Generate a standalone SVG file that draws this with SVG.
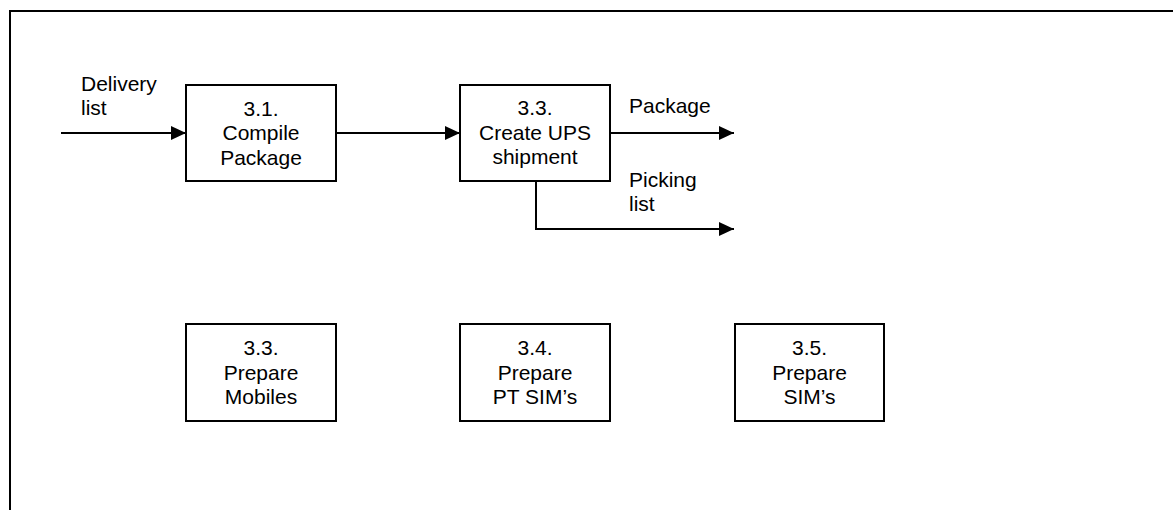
<svg xmlns="http://www.w3.org/2000/svg" width="1173" height="510" viewBox="0 0 1173 510">
<defs>
<style>
.box{fill:#fff;stroke:#000;stroke-width:2}
.ln{fill:none;stroke:#000;stroke-width:2}
text{font-family:"Liberation Sans",Arial,sans-serif;font-size:21px;fill:#000}
.c{text-anchor:middle}
</style>
<marker id="ah" viewBox="0 0 15 14" refX="15" refY="7" markerWidth="15" markerHeight="14" markerUnits="userSpaceOnUse" orient="auto">
<path d="M0,0 L15,7 L0,14 Z" fill="#000"/>
</marker>
</defs>
<rect x="0" y="0" width="1173" height="510" fill="#fff"/>
<rect x="10" y="11" width="1180" height="520" fill="none" stroke="#000" stroke-width="2"/>
<g id="connectors">
<line class="ln" x1="61" y1="133" x2="186" y2="133" marker-end="url(#ah)"/>
<line class="ln" x1="336" y1="133" x2="460" y2="133" marker-end="url(#ah)"/>
<line class="ln" x1="610" y1="133" x2="734" y2="133" marker-end="url(#ah)"/>
<polyline class="ln" points="536,181 536,229 734,229" marker-end="url(#ah)"/>
<text x="81" y="91">Delivery</text>
<text x="81" y="115">list</text>
<text x="629" y="113">Package</text>
<text x="629" y="187">Picking</text>
<text x="629" y="211">list</text>
</g>
<g id="n31">
<rect class="box" x="186" y="85" width="150" height="96"/>
<text class="c" x="261" y="116">3.1.</text>
<text class="c" x="261" y="140">Compile</text>
<text class="c" x="261" y="165">Package</text>
</g>
<g id="n33a">
<rect class="box" x="460" y="85" width="150" height="96"/>
<text class="c" x="535" y="115">3.3.</text>
<text class="c" x="535" y="140">Create UPS</text>
<text class="c" x="535" y="164">shipment</text>
</g>
<g id="n33b">
<rect class="box" x="186" y="324" width="150" height="97"/>
<text class="c" x="261" y="355">3.3.</text>
<text class="c" x="261" y="380">Prepare</text>
<text class="c" x="261" y="404">Mobiles</text>
</g>
<g id="n34">
<rect class="box" x="460" y="324" width="150" height="97"/>
<text class="c" x="535" y="355">3.4.</text>
<text class="c" x="535" y="380">Prepare</text>
<text class="c" x="535" y="404">PT SIM’s</text>
</g>
<g id="n35">
<rect class="box" x="735" y="324" width="149" height="97"/>
<text class="c" x="809.5" y="355">3.5.</text>
<text class="c" x="809.5" y="380">Prepare</text>
<text class="c" x="809.5" y="404">SIM’s</text>
</g>
</svg>
